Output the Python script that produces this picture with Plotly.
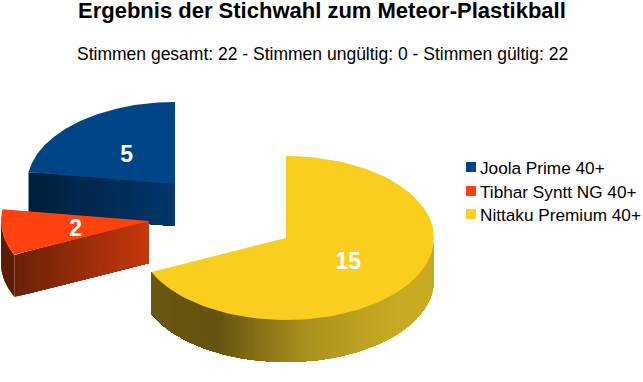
import math
import numpy as np
import plotly.graph_objects as go

# ---- data ----
categories = ["Joola Prime 40+", "Tibhar Syntt NG 40+", "Nittaku Premium 40+"]
values = [5, 2, 15]
top_colors = ["#004586", "#ff420e", "#f9ce1f"]
legend_colors = ["#004586", "#ff420e", "#ffd320"]
title_text = "Ergebnis der Stichwahl zum Meteor-Plastikball"
subtitle_text = "Stimmen gesamt: 22 - Stimmen ungültig: 0 - Stimmen gültig: 22"

# ---- geometry of the exploded, tilted pie (pixel-like axis units) ----
W, H = 643, 382
RX, RY, DEPTH = 148, 82, 42
apexes = [(175, 184), (149, 221), (286, 238)]
legend_x = 471
legend_y = [167, 191, 214]
legend_text_dx = 9
legend_text_dy = 2
label_dy = 3

# wall shading stops: (position along the diagonal x + y/1.2, colour)
yellow_wall = [(380, "#6b5810"), (475, "#64530f"), (530, "#8a7318"), (570, "#a98f1e"),
               (640, "#c7a922"), (680, "#d4b321"), (700, "#e6c021")]
red_cut = [(15, "#6b2107"), (149, "#c6380c")]
red_outer = [(0, "#5c1c05"), (20, "#5c1c05")]
blue_cut = [(29, "#001f3c"), (175, "#00376b")]


def rgb(h):
    return np.array([int(h[i:i + 2], 16) for i in (1, 3, 5)], float)


def shade(stops, x):
    xs = [s[0] for s in stops]
    cs = np.array([rgb(s[1]) for s in stops])
    c = [np.interp(x, xs, cs[:, k]) for k in range(3)]
    return "rgb(%d,%d,%d)" % tuple(round(v) for v in c)


def pt(apex, deg, f=1.0):
    a = math.radians(deg)
    return apex[0] + f * RX * math.sin(a), apex[1] - f * RY * math.cos(a)


fig = go.Figure()


def poly(xs, ys, color):
    fig.add_trace(go.Scatter(x=xs, y=ys, mode="lines", fill="toself", fillcolor=color,
                             line=dict(color=color, width=0), hoverinfo="skip",
                             showlegend=False))


def wall_between(p, q, stops, n):
    # painted back to front: each strip reaches to the far end so no seams show
    for i in range(n):
        t0, tm = i / n, (i + 0.5) / n
        x0, y0 = p[0] + (q[0] - p[0]) * t0, p[1] + (q[1] - p[1]) * t0
        xm = p[0] + (q[0] - p[0]) * tm
        x1, y1 = q
        poly([x0, x1, x1, x0, x0], [y0, y1, y1 + DEPTH, y0 + DEPTH, y0], shade(stops, xm))


def wall_arc(apex, a0, a1, stops, n, key=lambda x, y: x):
    # each strip covers the rest of the arc; later strips paint over it
    deg = np.linspace(a0, a1, n + 1)
    for i in range(n):
        rest = [pt(apex, d) for d in deg[i:]]
        xs = [p[0] for p in rest]
        ys = [p[1] for p in rest]
        xm, ym = pt(apex, (deg[i] + deg[i + 1]) / 2)
        poly(xs + xs[::-1] + [xs[0]], ys + [y + DEPTH for y in ys[::-1]] + [ys[0]],
             shade(stops, key(xm, ym)))


def top(apex, a0, a1, color):
    deg = np.linspace(a0, a1, 120)
    pts = [pt(apex, d) for d in deg]
    poly([apex[0]] + [p[0] for p in pts] + [apex[0]],
         [apex[1]] + [p[1] for p in pts] + [apex[1]], color)


# angles are clockwise from 12 o'clock; the slices run Nittaku, Tibhar, Joola
total = sum(values)
a_yellow_end = 360 * values[2] / total
a_red_end = a_yellow_end + 360 * values[1] / total
spans = [(a_red_end, 360.0), (a_yellow_end, a_red_end), (0.0, a_yellow_end)]

# Joola: cut face, then top
wall_between(pt(apexes[0], spans[0][0]), apexes[0], blue_cut, 40)
top(apexes[0], *spans[0], top_colors[0])

# Tibhar: outer rim, cut face, top
wall_arc(apexes[1], spans[1][0], 270, red_outer, 4)
wall_between(pt(apexes[1], spans[1][0]), apexes[1], red_cut, 40)
top(apexes[1], *spans[1], top_colors[1])

# Nittaku: outer rim, top
wall_arc(apexes[2], 90, spans[2][1], yellow_wall, 120, key=lambda x, y: x + y / 1.2)
top(apexes[2], *spans[2], top_colors[2])

# value labels
for apex, (a0, a1), v in zip(apexes, spans, values):
    x, y = pt(apex, (a0 + a1) / 2, 0.5)
    fig.add_trace(go.Scatter(x=[x], y=[y + label_dy], mode="text", text=[str(v)],
                             textposition="middle center",
                             textfont=dict(family="Liberation Sans", size=23, color="white",
                                           weight="bold"),
                             hoverinfo="skip", showlegend=False))

# legend
for name, col, y in zip(categories, legend_colors, legend_y):
    fig.add_trace(go.Scatter(x=[legend_x], y=[y], mode="markers",
                             marker=dict(symbol="square", size=10, color=col),
                             hoverinfo="skip", showlegend=False))
    fig.add_annotation(x=legend_x + legend_text_dx, y=y + legend_text_dy - 1, xref="x", yref="y",
                       xanchor="left", text=name, showarrow=False, borderpad=0, borderwidth=0,
                       font=dict(family="Liberation Sans", size=17.2, color="black"))

fig.add_annotation(x=322, y=10, xref="x", yref="y", text="<b>%s</b>" % title_text, showarrow=False,
                   font=dict(family="Liberation Sans", size=22, color="black"))
fig.add_annotation(x=322, y=54, xref="x", yref="y", text=subtitle_text, showarrow=False,
                   font=dict(family="Liberation Sans", size=17.5, color="black"))

fig.update_layout(
    width=W, height=H, margin=dict(l=0, r=0, t=0, b=0),
    paper_bgcolor="white", plot_bgcolor="white", showlegend=False,
    xaxis=dict(range=[0, W], visible=False, fixedrange=True),
    yaxis=dict(range=[H, 0], visible=False, fixedrange=True),
)
fig.write_html("out.html", config=dict(displayModeBar=False),
               post_script="document.body.style.margin='0';document.body.style.overflow='hidden';")
